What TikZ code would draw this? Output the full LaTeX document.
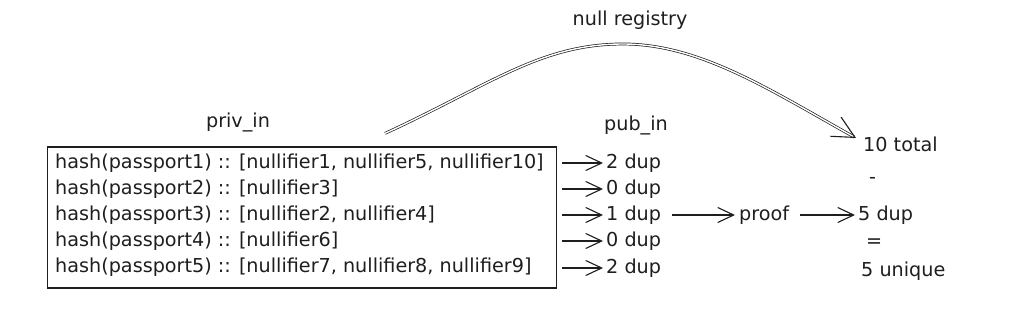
\documentclass[tikz,border=0pt]{standalone}
\usepackage{fontspec}
\setmainfont{DejaVu Sans}
\usetikzlibrary{positioning,fit,arrows.meta,calc}
\definecolor{inkText}{HTML}{1E1E1E}

\begin{document}
\begin{tikzpicture}[
  x=1pt, y=-1pt,
  font=\fontsize{19.2}{26}\selectfont,
  every node/.style={text=inkText},
  box/.style={draw=inkText, line width=1.2pt, minimum width=509pt,
              minimum height=141pt, inner sep=0pt},
  row/.style={anchor=west, inner sep=0pt, text height=14pt, text depth=4pt},
  val/.style={row, inner sep=3pt},
  flow/.style={-{Straight Barb[length=16pt,width=15pt,line width=1.1pt]},
               line width=1.1pt, draw=inkText},
  reg/.style={-{Straight Barb[length=22pt,width=22pt,line width=1.1pt]},
              line width=0.7pt, double, double distance=1.4pt, draw=inkText},
]
\useasboundingbox (0,0) rectangle (1024,311);

% ---------------- NODES (absolute grid) ----------------
\node[box] (privBox) at (302,217.5) {};
\node[row] (h1) at (55,163) {hash(passport1) :: [nullifier1, nullifier5, nullifier10]};
\node[row] (h2) at (55,189) {hash(passport2) :: [nullifier3]};
\node[row] (h3) at (55,215) {hash(passport3) :: [nullifier2, nullifier4]};
\node[row] (h4) at (55,241) {hash(passport4) :: [nullifier6]};
\node[row] (h5) at (55,267) {hash(passport5) :: [nullifier7, nullifier8, nullifier9]};
\node (privIn) at (238,122) {priv\_in};

\node (pubIn) at (636,125) {pub\_in};
\node[val] (d1) at (603,163) {2 dup};
\node[val] (d2) at (603,189) {0 dup};
\node[val] (d3) at (603,215) {1 dup};
\node[val] (d4) at (603,241) {0 dup};
\node[val] (d5) at (603,268) {2 dup};

\node[val] (proof) at (736,215) {proof};

\node[val] (tot) at (860,146) {10 total};
\node[val] (minus) at (866,178) {-};
\node[val] (dup) at (855,215) {5 dup};
\node[val] (eq) at (863,242) {=};
\node[val] (uniq) at (858,271) {5 unique};

\node (nullReg) at (630,20) {null registry};

% ---------------- EDGES ----------------
\foreach \i in {1,...,5}
  \draw[flow, shorten <=5pt] (privBox.east |- d\i) -- (d\i.west);
\draw[flow, shorten <=8pt, shorten >=1pt] (d3.east) -- (proof.west);
\draw[flow, shorten <=8pt] (proof.east) -- (dup.west);
% registry curve over the top
\coordinate (regStart) at ([xshift=83pt,yshift=13pt]privBox.north);
\coordinate (regEnd) at ([xshift=-4pt,yshift=8pt]tot.west);
\draw[reg] (regStart) .. controls (490,85) and (540,44) .. (623,44)
  .. controls (700,44) and (770,90) .. (regEnd);
\end{tikzpicture}
\end{document}
